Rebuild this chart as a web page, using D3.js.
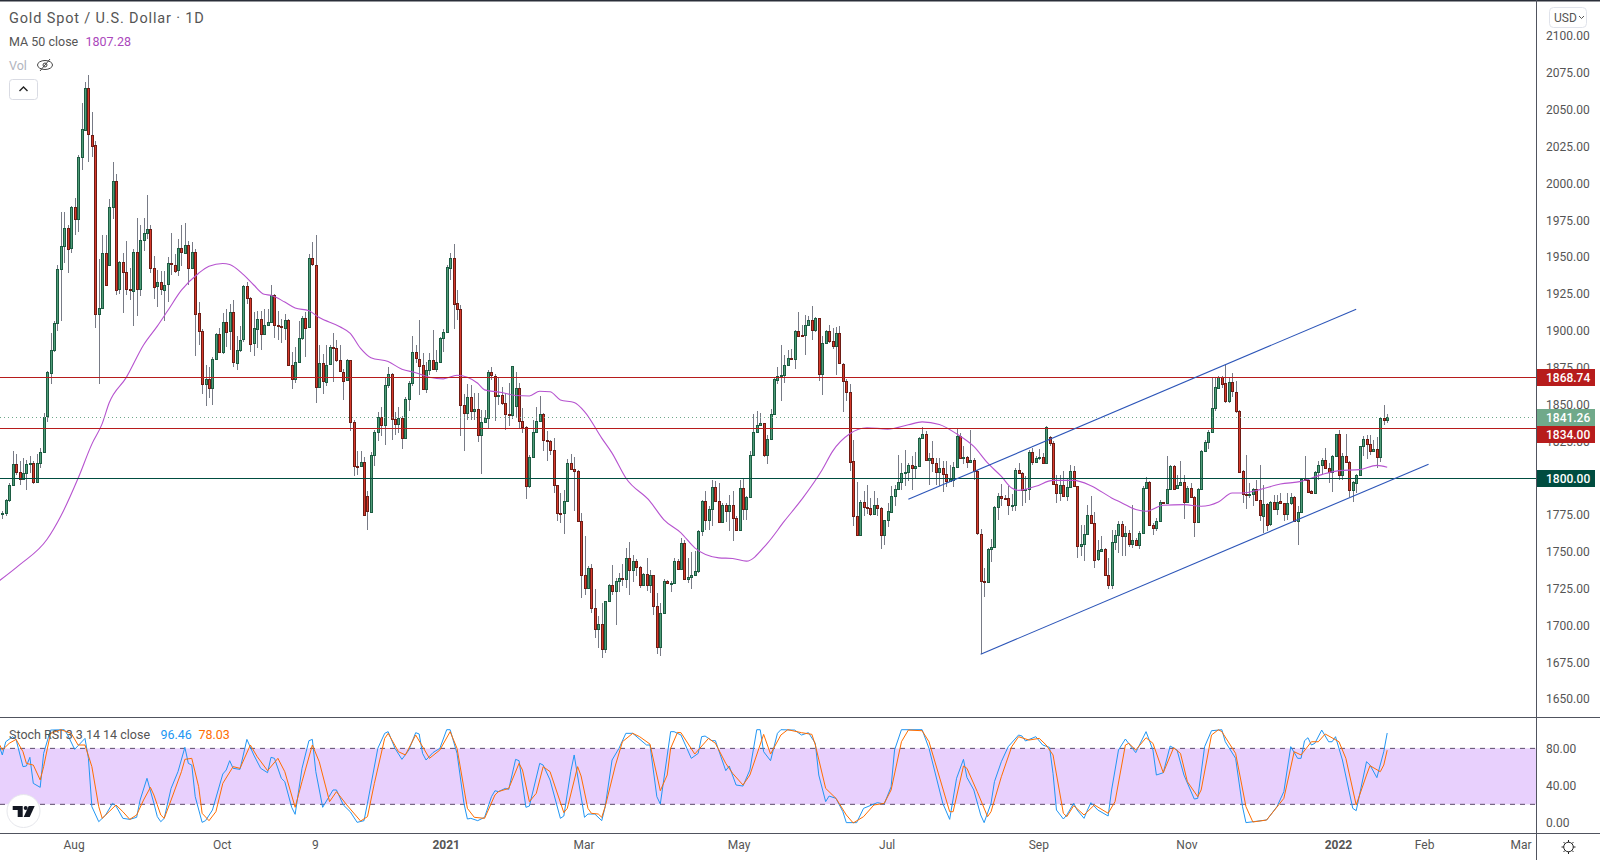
<!DOCTYPE html>
<html>
<head>
<meta charset="utf-8">
<title>Gold Spot / U.S. Dollar</title>
<script src="https://cdn.jsdelivr.net/npm/d3@7"></script>
<style>
body { margin: 0; background: #fff; }
svg { display: block; }
text { font-family: Roboto, "Noto Sans", sans-serif; }
</style>
</head>
<body>
<svg></svg>
<script>
// daily candles, one entry per bar
let opens = [
1775.6,1776.1,1785.1,1795.1,1809.5,1803.9,1799.3,1803.3,1809.5,1810.4,
1797.4,1810.2,1817.6,1841.6,1871.3,1886.8,1905,1941.9,1957.7,1970,
1955.8,1983.7,1975.8,2017.6,2036.1,2064.5,2033.1,2025.7,1911.2,1915.4,
1953,1944.2,1983.9,2001.6,1927.9,1946.5,1939.6,1928.4,1927.5,1953.7,
1928.6,1961.8,1966.5,1969.3,1942.6,1930,1932.8,1927.9,1931.2,1945.6,
1944.9,1940.7,1955.8,1952.8,1958.4,1943,1953.7,1911.9,1899.6,1863.4,
1867.1,1861.3,1880.8,1897.8,1885.7,1905.9,1899.2,1912.4,1878.3,1887.1,
1893.8,1930,1922.1,1891,1901.5,1908.2,1897.8,1903.8,1905.9,1924.2,
1903.8,1902.9,1901.9,1907.3,1876.9,1867.1,1878.7,1895,1908.9,1902.4,
1949.1,1944.9,1862,1878.3,1865.2,1876.9,1888.9,1888,1879.9,1872.2,
1866.2,1879.9,1837.9,1808.3,1807.9,1810.8,1787.8,1777.2,1815.6,1830.9,
1841.3,1835.9,1863,1870.4,1839.9,1836.3,1840.6,1826.9,1853.5,1864.3,
1885.3,1881,1876.5,1860,1873.1,1879.9,1873.6,1878.5,1894.8,1898.9,
1942.9,1949.6,1918.5,1914.4,1849.4,1843.8,1854.8,1845.4,1846.7,1829.1,
1837.9,1840.6,1871.8,1869.5,1856,1856,1850.6,1843.1,1842.4,1848.5,
1860.9,1838.6,1834.5,1794.4,1814.2,1830.9,1838.6,1843.3,1825.7,1824.8,
1819,1795.3,1776.5,1776.3,1784.2,1810.2,1806.1,1804.7,1770.7,1734.1,
1725.5,1739.1,1712,1697.8,1701.1,1684.2,1716.5,1727.6,1723.5,1730,
1732.1,1731.6,1745.8,1737.7,1743.8,1739.7,1727.3,1735,1727.3,1734.3,
1713.1,1685.3,1708.6,1730.3,1728.7,1728.7,1743.8,1738.4,1756,1731.6,
1733,1734.3,1737,1764.1,1784.4,1771.3,1779,1793.9,1784.4,1770.2,
1781.7,1777.7,1781.7,1772.9,1764.8,1793.2,1779,1787.1,1815.6,1831.1,
1835.9,1837.2,1815.3,1826.4,1843.1,1867,1869.3,1869.5,1876.5,1881.2,
1880.6,1899.5,1896.8,1896.8,1903.6,1907,1900,1908.3,1870.2,1891.4,
1899.5,1892.8,1889.4,1898.2,1877.6,1866.1,1858.7,1811.5,1774,1761.2,
1783.7,1780.4,1779.7,1775.4,1781.7,1779.7,1761.2,1771.6,1777.4,1788,
1792.6,1797.3,1803.2,1803.8,1808.8,1806.5,1807.9,1826.9,1829.8,1812,
1813.5,1810.2,1803.8,1806.8,1802.5,1797.7,1798.9,1807.4,1828.7,1813.8,
1814,1810.6,1812.2,1804.5,1762.1,1730.3,1729.6,1751.9,1753.3,1780.2,
1787.8,1786.7,1786.5,1781.5,1781.5,1805.4,1803.2,1791.6,1792.6,1817.6,
1810.6,1813.5,1814.2,1809.9,1827.5,1823.5,1795.9,1789.8,1795.3,1787.6,
1793.9,1804.7,1794.4,1753.7,1755.1,1761.9,1774.9,1769.5,1744.5,1750.6,
1751.9,1734.3,1727.6,1756.7,1761.4,1768.9,1760.5,1762.8,1755.5,1758,
1754.4,1762.6,1793,1797.3,1768,1765.7,1770.7,1783.7,1783.1,1792.6,
1808.4,1793,1795,1797.3,1783.5,1793,1787.1,1770,1792.6,1818.3,
1824.1,1830.9,1847.2,1861.4,1868.8,1864.3,1851.9,1865,1858.7,1845.8,
1804.7,1789.4,1788.5,1789.2,1792.6,1785.1,1774.7,1782.6,1768.6,1783.5,
1779,1784.4,1782.8,1775.4,1782.8,1787.1,1770.9,1776.8,1799.3,1798.9,
1791,1789.6,1804.1,1808.6,1812.2,1806.8,1804.3,1814.7,1829.8,1801.8,
1814.9,1810.8,1791.6,1797.1,1802,1821.4,1826.4,1822.8,1818.1,1819.7,
1814.3,1840.7,1839.1]

let highs = [
1777.7,1785.8,1796.3,1818.3,1816,1811.4,1813.7,1812.5,1814.9,1811.4,
1816,1820.7,1843.9,1872.9,1898.5,1906.6,1944.9,1980.4,1980.4,1971.6,
1984.4,1990.2,2019.2,2054.7,2068.7,2073.3,2048.2,2028.5,1948.4,1964.6,
1964.6,1989.7,2014.6,2006,1947.2,1953,1961.1,1942.6,1955.3,1976.2,
1971.6,1976.2,1991.8,1971.6,1950.7,1941.4,1940.2,1940.2,1950.2,1966.5,
1951.9,1962.3,1971.6,1972.8,1961.1,1960,1955.3,1919.4,1900.8,1876.4,
1875.2,1882.2,1898.5,1901.9,1911.7,1914.7,1918.2,1921,1896.1,1903.1,
1931,1933.3,1922.8,1912.4,1913.5,1913.5,1914.7,1914.7,1931,1925.2,
1913.5,1907.7,1911.2,1907.7,1885.2,1889.2,1906.6,1910.1,1912.4,1951.9,
1960,1964.6,1890.3,1884.5,1890.3,1890.3,1898.5,1893.8,1890.3,1874.1,
1881,1880.1,1839.5,1818.5,1818.1,1814.2,1791,1817.6,1832.7,1844.5,
1848.5,1868.8,1875.2,1871.1,1845.1,1848.1,1841.8,1855.3,1865.9,1896.4,
1890.1,1907.2,1884.6,1879,1884.6,1900.4,1886.9,1895.5,1900.9,1944.4,
1953,1959.1,1927.5,1917.4,1857.1,1863.9,1863.2,1857.6,1857.6,1846.3,
1846.3,1873.4,1875.4,1870.6,1868.2,1861.6,1857.6,1864.3,1876.1,1871.8,
1864.3,1847.4,1835,1815.8,1839.5,1848.5,1855.7,1844,1831.6,1826,
1827.1,1795.5,1789.8,1792.1,1813.1,1816.5,1814.2,1805.6,1776.3,1760.5,
1740.2,1741.3,1724.4,1706.3,1714.9,1716.5,1727.8,1740.9,1732.3,1735.7,
1741.8,1752.2,1756.4,1747.4,1744.7,1740.2,1735.7,1745.8,1737.3,1734.5,
1722.1,1715.4,1731.2,1730.5,1730,1745.8,1745.2,1759.4,1758.2,1745.8,
1749.7,1750.3,1764.6,1784.9,1791,1780.8,1798.4,1798.2,1796.6,1783.1,
1783.1,1788.7,1791,1774,1798.9,1800,1787.6,1818.3,1843.3,1845.8,
1844,1837.4,1829.3,1846.7,1868.4,1875.2,1890.3,1883.5,1886.9,1887.3,
1900.4,1912.4,1903.8,1910.6,1909.9,1916.7,1909,1908.8,1896.4,1900.4,
1903.8,1901.6,1902.2,1903.1,1877.9,1867,1863.9,1826,1797.5,1785.3,
1791,1795.5,1786.5,1791,1786.5,1780.4,1771.8,1783.1,1794.4,1795.5,
1815.8,1810.2,1819.2,1810.2,1814.7,1817.6,1827.5,1834.5,1831.6,1816.9,
1825.3,1813.5,1813.5,1811.3,1811.5,1809,1810.6,1833.2,1830.5,1821.4,
1814.7,1832.3,1813.5,1805.6,1765.7,1739.1,1752.6,1758.7,1780.8,1789.8,
1795.9,1788.7,1794.4,1789.4,1806.8,1810.2,1803.8,1801.1,1819.2,1820.3,
1814.7,1819.6,1816.9,1835.4,1828.2,1824.8,1802.3,1802.3,1804.5,1800,
1809,1807.9,1794.8,1768.4,1768.4,1781.9,1788,1777.2,1758.2,1760.5,
1752.6,1745.8,1764.6,1765,1771.1,1770.7,1767.3,1765,1781.9,1759.4,
1763.9,1794.4,1800.7,1797.7,1769.5,1772.9,1785.3,1783.7,1814.7,1809,
1809,1802.3,1811.3,1802.3,1794.4,1796.6,1788,1793.2,1819.2,1826,
1832.7,1868.8,1868.8,1869.3,1869.3,1876.7,1868.4,1871.1,1866.1,1846.3,
1805.2,1815.8,1796.6,1793.2,1798.9,1809,1795.5,1783.1,1784.2,1788.7,
1788.7,1789.8,1783.1,1789.8,1789.8,1787.6,1780.8,1800,1815.1,1799.3,
1792.1,1804.5,1811.3,1813.5,1820.3,1810.2,1815.8,1830,1832.3,1816.9,
1830,1811.3,1797.7,1802.7,1821.9,1828.7,1829.3,1829,1826,1827.6,
1841.2,1849.8,1843.4]

let lows = [
1771.9,1774.2,1783.5,1794.7,1802.1,1795.1,1798.6,1791.6,1803.3,1795.6,
1797,1806.7,1817.2,1838.1,1863.6,1885.7,1900,1906.6,1946,1939.1,
1953,1964.6,1967,2008.8,2035.5,2014.6,2018,1901.9,1863.6,1914.7,
1931,1943.7,1975.8,1924,1924.7,1911.7,1924,1920.5,1903.1,1910.1,
1923.3,1954.2,1962.3,1939.1,1921.7,1916.3,1924,1906.6,1919.4,1937.9,
1939.1,1936.8,1943.7,1951.9,1931,1942.6,1882.7,1890.3,1856.7,1849,
1854.3,1849.7,1881,1885.2,1884.5,1889.2,1886.8,1875.2,1873.4,1885.7,
1892.6,1918.2,1885.7,1882.7,1888,1886.8,1897.3,1903.1,1905.4,1895,
1893.8,1891.5,1893.8,1876.4,1860.1,1864.3,1878.3,1893.8,1882.2,1901.9,
1943.7,1850.9,1861.3,1856.7,1862.5,1876.4,1865.2,1878.7,1871.7,1853.2,
1865.7,1831.6,1801.1,1802.3,1807.5,1774.5,1765,1776.8,1808.4,1824.8,
1828.2,1822.6,1860.9,1826,1829.3,1830.5,1819.9,1826.4,1845.6,1862.7,
1877.9,1856,1859.4,1858,1870,1873.4,1872.2,1877.9,1885.8,1898.2,
1934.3,1901.1,1907.2,1828.7,1818.1,1839.5,1839.5,1839.5,1824.1,1802.9,
1837.2,1833.2,1866.6,1838.4,1849.7,1849.7,1832.3,1835,1839.9,1840.6,
1833.9,1830.5,1785.8,1793.2,1813.5,1830.5,1837.7,1818.1,1811.3,1815.8,
1789.8,1770.7,1769.5,1761.9,1783.5,1805.2,1777.4,1770.2,1718.7,1720.6,
1724.8,1708.6,1691.7,1684.9,1678.1,1681.5,1716.5,1720.3,1700.2,1722.6,
1726.6,1725.5,1720.6,1729.4,1733.4,1725.5,1726.6,1723.3,1722.1,1707,
1680.4,1679.3,1707.9,1728.2,1722.6,1727.8,1738,1738,1731.6,1728.9,
1724.8,1733.4,1735.2,1760.5,1764.6,1764.6,1767.3,1784,1770,1769.5,
1770,1763.9,1757.1,1764.6,1764.6,1771.3,1771.3,1786.9,1814.7,1830.9,
1835.4,1814.2,1809.3,1826,1842.7,1863.9,1852.6,1864.8,1876.1,1880.6,
1873.8,1895.7,1895.7,1883.3,1903.1,1893.7,1899.3,1866.1,1856,1891,
1891.4,1887.8,1870,1877.2,1845.1,1852.6,1804.5,1767.7,1761,1761,
1774,1775.9,1774,1774.9,1774,1751.5,1754.2,1766.6,1777.2,1781.3,
1792.1,1792.1,1794.8,1797.7,1792.1,1800,1807.4,1826.4,1811.5,1795.5,
1803.8,1795.5,1794.8,1790.3,1793.9,1797.1,1793.9,1807,1813.5,1809.7,
1806.8,1810.6,1798.4,1761.6,1680.4,1719.2,1728.9,1742.9,1752.6,1771.8,
1780.8,1785.3,1775.2,1777.4,1777.4,1802.7,1780.8,1783.1,1785.3,1809,
1810.2,1812.4,1809.5,1809.7,1821.4,1795.3,1783.1,1784.2,1787.1,1784.2,
1793.2,1793.9,1745.8,1747,1743.6,1761.4,1769.1,1738.6,1744,1750.3,
1733.4,1724.4,1724.4,1751,1749.2,1747,1747,1753.3,1752.6,1753.7,
1751.5,1762.3,1792.8,1767.7,1761.2,1763.9,1770.2,1783.1,1783.1,1792.1,
1792.6,1792.8,1794.4,1772.2,1783.1,1786.5,1759.8,1769.5,1792.1,1818.1,
1819.9,1830.5,1845.8,1860.9,1860.9,1850.8,1850.8,1854.8,1844,1804.1,
1783.1,1779.2,1786.5,1781.3,1784.2,1770.7,1762.8,1763.9,1767.3,1778.6,
1775.2,1782.6,1770.7,1771.8,1781.9,1770.7,1754.4,1776.3,1797.7,1790.5,
1789.4,1789.2,1798.9,1802.3,1806.1,1796.6,1790.3,1814.2,1798.9,1798.9,
1810.2,1787.1,1783.5,1789.8,1801.6,1815.1,1813.1,1815.8,1817.6,1806.8,
1810.9,1836.2,1837.3]

let closes = [
1776.5,1785.1,1795.1,1809.5,1803.9,1799.3,1803.3,1809.5,1810.4,1797.4,
1810.2,1817.6,1841.6,1871.7,1886.8,1905.4,1941.9,1957.7,1970,1955.8,
1983.7,1975.8,2018,2036.6,2064.5,2033.1,2025.7,1911.2,1915.4,1953,
1931.4,1983.9,2001.6,1927.9,1946.5,1939.6,1927.9,1927.5,1953.7,1928.6,
1961.8,1966.5,1969.3,1942.6,1930,1932.8,1927.9,1931.2,1945.6,1944.9,
1940.7,1955.8,1952.8,1958.4,1943,1953.7,1911.9,1899.6,1863.4,1867.1,
1861.3,1880.8,1897.8,1885.7,1905.9,1899.2,1912.4,1878.3,1887.1,1893.8,
1930,1922.1,1891,1901.5,1908.2,1897.8,1903.8,1905.9,1924.2,1903.8,
1902.9,1901.9,1907.3,1876.9,1867.1,1878.7,1895,1908.9,1902.4,1949.1,
1944.9,1862,1878.3,1865.9,1876.9,1888.7,1888,1879.9,1872.2,1866.2,
1879.9,1837.9,1807.9,1807.9,1810.8,1774.9,1777.7,1815.6,1831.1,1841.3,
1835.9,1863,1870.4,1839.9,1836.3,1840.6,1826.9,1853.5,1864.3,1885.3,
1881,1876.5,1860,1873.1,1879.9,1873.8,1878.5,1894.8,1898.9,1942.9,
1949.6,1918.5,1914.4,1849.4,1843.8,1854.8,1845.4,1846.7,1829.1,1837.9,
1840.9,1871.8,1869.5,1856,1856.4,1850.6,1843.1,1842.4,1875.8,1860.9,
1838.6,1834.5,1794.4,1814.2,1831.1,1838.6,1843.3,1825.7,1824.8,1819,
1795.3,1776.3,1776.1,1784.2,1810.2,1805.9,1804.7,1770.7,1734.1,1725.5,
1739.1,1712,1697.8,1701.1,1684.2,1716.5,1727.6,1723.5,1730.3,1732.1,
1731.6,1745.8,1737.7,1743.8,1739.7,1727.3,1735,1727.3,1734.3,1713.1,
1685.3,1708.6,1730.3,1728.7,1729,1743.8,1738.4,1756,1731.6,1733,
1734.3,1737,1764.1,1784.4,1771.3,1779,1793.9,1784.4,1770.2,1781.7,
1777.7,1781.7,1772.9,1764.8,1793.2,1779,1787.1,1815.6,1831.1,1835.9,
1837.2,1815.3,1826.4,1843.3,1867,1869.5,1869.7,1876.5,1881.2,1880.6,
1899.5,1896.1,1896.1,1903.6,1907,1900,1908.3,1870.2,1891.4,1899.5,
1892.8,1889.2,1898.2,1877.6,1866.1,1858.7,1811.5,1774,1761.2,1783.7,
1780.4,1779.7,1775.4,1781.7,1779.7,1761.2,1771.6,1777.7,1788,1792.8,
1797.5,1803.4,1804.1,1808.8,1806.5,1808.1,1827.1,1829.8,1812,1813.5,
1810.2,1803.8,1806.8,1802.5,1797.7,1799.3,1807.4,1828.7,1814,1814.2,
1810.6,1812.2,1804.5,1762.1,1730.3,1729.6,1751.9,1753.3,1780.4,1787.8,
1786.5,1786.2,1781.7,1781.9,1805.4,1803.2,1791.9,1792.6,1817.6,1810.6,
1813.5,1814.2,1809.9,1834.5,1823.5,1795.9,1789.8,1795.3,1787.6,1793.9,
1804.7,1794.4,1753.7,1755.3,1762.1,1774.9,1769.5,1744.5,1750.8,1751.9,
1734.1,1727.6,1756.7,1761.4,1769.1,1760.7,1762.8,1755.5,1758,1754.4,
1762.8,1793.2,1797.3,1768,1765.9,1770.7,1783.7,1783.3,1792.6,1808.4,
1793,1795.3,1797.3,1783.5,1793,1787.1,1770,1792.6,1818.3,1824.4,
1831.1,1847.4,1861.6,1868.8,1864.3,1851.9,1865,1858.7,1845.8,1804.5,
1789.2,1788.5,1789.2,1792.6,1784.9,1774.7,1782.6,1768.6,1783.5,1779,
1783.5,1782.8,1775.4,1782.8,1787.1,1770.9,1777,1799.3,1798.6,1791,
1789.6,1804.1,1808.8,1812.2,1806.8,1804.3,1814.9,1829.8,1801.8,1814.9,
1810.8,1791.9,1797.3,1802.3,1821.7,1826.4,1822.8,1818.1,1819.7,1814.3,
1840.7,1839.1,1841.26]

// moving average, read at its visible bends (bar number, price)
let maDays = [-1,5,13,17,22,26,29,31,36,41,45,48,52,57,60,64,66,70,73,76,78,82,85,89,92,98,101,104,107,112,116,120,124,128,132,135,138,140,145,149,153,156,159,162,166,169,174,177,181,188,192,197,201,208,212,216,222,227,232,238,241,246,251,257,263,267,272,277,282,286,290,293,295,300,305,311,316,322,325,329,332,337,343,348,353,357,360,365,371,377,383,388,394,399,402]
let maValues = [1730,1741,1758.4,1774.2,1799.8,1823,1836.9,1850.9,1868.3,1890.3,1903.1,1913.5,1927.5,1939,1943.7,1945.6,1944.9,1938,1931,1924.7,1924,1919.4,1915.4,1913.5,1908.9,1902.7,1898.2,1888,1881.7,1879,1873.8,1871.5,1868.4,1867.3,1869.7,1868.4,1864.3,1859.8,1858,1856,1855.7,1858.9,1858.5,1853,1851.2,1845.1,1827.1,1816.9,1800,1784.2,1771.8,1762.8,1752.6,1745.8,1745.4,1743.6,1755.5,1770.7,1785.3,1805.6,1818.1,1830,1834.1,1833.2,1836.1,1838.1,1836.3,1830,1821.4,1810.2,1801.1,1793.2,1791.6,1794.4,1798.4,1798.4,1794.8,1786.5,1783.1,1778.6,1777.4,1781.5,1781.9,1780.8,1783.7,1789.8,1789.8,1792.1,1795.9,1797.7,1802.3,1805,1805.7,1808.6,1807.28]

// stoch rsi %k and %d, read at their bends
let kDays = [-1,0,1,3,4,6,7,8,9,11,12,14,18,19,21,24,25,26,28,30,32,33,35,37,39,40,42,44,45,46,47,49,51,53,54,55,56,58,59,61,64,65,66,67,69,71,73,75,77,78,79,81,82,84,85,87,89,90,91,93,96,97,99,101,103,105,106,109,111,112,114,116,118,120,121,122,123,125,127,129,130,132,134,135,136,138,140,142,143,144,146,147,149,150,152,153,156,157,159,162,163,165,166,169,170,172,174,175,177,179,181,183,187,188,190,191,194,195,197,200,202,203,204,206,207,210,211,213,215,217,219,220,221,223,225,226,230,232,234,236,237,239,240,242,244,245,248,250,254,256,258,259,261,267,269,273,275,277,279,280,282,284,285,287,288,290,292,295,296,297,300,302,304,305,306,308,309,311,312,314,315,316,318,321,322,324,326,329,332,334,335,337,339,341,343,346,347,349,351,354,355,358,360,361,367,370,372,374,376,377,378,379,380,381,383,385,386,387,389,392,393,396,397,399,401,402]
let kValues = [83.6,72.9,87.1,92.5,89.6,60.4,61.1,70.4,42.5,38.2,74.6,99.6,100,94.3,78.9,90.7,69.3,17.5,1.4,8.6,21.1,18.2,5,3.9,6.1,24.6,47.9,21.1,6.8,1.4,5,37.1,55,81.1,63.9,62.1,28.2,0.7,2.5,13.9,52.5,56.8,66.8,58.6,57.5,89.6,72.9,58.6,53.9,70.4,69.3,47.9,44.3,16.8,9.3,58.6,88.2,89.6,55,16.8,35.4,35.4,19.3,12.1,0.7,2.5,21.1,80,96.1,97.9,80,68.2,78.2,96.8,95.4,74.6,67.5,75.4,80,100,100,74.6,21.1,4.3,5,2.5,6.1,28.2,34.6,33.6,37.1,36,68.2,66.8,16.8,18.2,63.9,62.1,46.1,5,7.5,55,72.9,6.1,9.6,9.6,2.5,17.5,67.5,80,96.1,96.1,83.6,83.6,28.2,20.4,97.9,97.9,94.3,69.3,74.6,92.5,93.2,88.2,88.2,56.1,61.1,40.7,39.6,56.8,100,100,76.4,66.8,96.1,100,99.6,94.3,96.8,85.4,51.4,22.9,28.9,26.4,12.1,0.4,0.4,15.7,21.8,20.4,38.9,78.2,100,100,80,21.1,3.9,47.9,68.2,48.9,35.4,8.6,0.4,21.1,44.3,65.7,81.8,94.3,93.2,87.9,92.5,83.6,81,53,13.9,4.3,8.6,21.1,13.9,5,13.9,21.8,13.9,7.5,35.4,78.2,90,75.4,97.9,78.2,51.4,53.9,82.5,78.2,51.4,25.7,26.4,81.8,98.9,100,87.1,69.3,17.5,0.4,3.2,17.5,33.6,81.8,69.3,69.3,88.2,91.4,83.6,85.4,99.6,87.1,87.1,92.5,67.5,15.7,13.2,65.7,62.1,48.6,76.4,96.46]
let dDays = [-1,0,2,4,6,7,9,11,12,14,17,20,22,24,26,28,29,31,33,35,37,39,41,43,44,46,47,49,52,53,55,57,58,60,62,64,67,69,72,74,77,80,82,85,87,90,92,95,97,100,104,106,108,111,112,115,117,120,124,127,130,132,135,137,140,143,144,147,150,151,153,155,157,159,163,164,167,168,170,171,173,174,175,178,180,183,185,188,191,193,194,196,197,201,205,207,210,212,215,217,221,223,226,228,232,235,236,239,242,245,247,250,253,256,258,261,263,267,269,275,276,279,280,283,286,287,290,293,295,298,301,303,305,308,309,311,314,317,321,323,326,327,329,332,334,337,340,342,344,347,348,351,353,354,358,361,363,367,372,375,377,380,382,384,388,390,393,396,397,400,401,402]
let dValues = [85.4,78.2,85.4,89.6,76.4,63.9,62.1,46.1,60.4,96.1,100,96.1,83.6,83.6,60.4,17.5,5,12.1,19.3,12.1,3.9,8.6,24.6,38.2,30,8.6,5,24.6,55,68.2,69.3,38.9,10.4,2.5,12.1,42.5,60.4,58.6,83.6,71.1,56.1,69.3,55,16.8,44.3,83.6,65.7,22.9,33.6,19.3,2.1,6.8,42.5,90.7,96.1,76.4,72.9,94.3,69.3,78.2,97.9,80,15.7,6.1,5,30,33.6,37.1,63.9,56.8,22.9,31.8,60.4,55,11.1,15.7,60.4,50.4,15.7,10.4,9.6,6.1,17.5,62.1,87.1,96.1,92.5,84.6,34.6,51.4,80,97.1,96.8,73.9,90.7,85.4,63.9,53.2,40.7,51.4,95,73.9,94.3,100,96.8,95,83.6,37.1,26.4,8.6,0,6.8,19.3,21.1,35.4,87.1,99.6,98.9,87.1,12.1,12.1,61.1,58.6,33.6,6.8,12.1,49.6,81.8,92.5,88.9,90.7,83.6,72.9,10.4,6.8,18.6,8.6,19.3,10.4,22.9,83.6,85.4,78.2,91.4,85.4,53.9,80.7,74.6,44.3,28.2,35.4,94.3,100,97.9,74.6,17.5,1.1,3.2,26.4,76.4,72.9,87.1,87.1,95.4,87.1,69.3,19.3,51.4,61.4,55,62.1,78.03]

// trend channel, bar number and price at each end
let upperDays = [263,393]
let upperPrices = [1785.5,1914.6]
let lowerDays = [284,414]
let lowerPrices = [1680.4,1809.4]

// ticks and level tags
let priceTicks = [1650,1675,1700,1725,1750,1775,1800,1825,1850,1875,1900,1925,1950,1975,2000,2025,2050,2075,2100]
let stochTicks = [0,40,80]
let timeTickDays = [21,64,91,129,169,214,257,301,344,388,413,441]
let timeTickLabels = ['Aug','Oct','9','2021','Mar','May','Jul','Sep','Nov','2022','Feb','Mar']
let levelPrices = [1868.74,1834,1800]
let levelColors = ['#b71c1c','#b71c1c','#004d40']
let lastPrice = 1841.26

let width = 1600
let height = 860
let plotRight = 1536
let tagHeight = 17

let svg = d3.select('svg').attr('width',width).attr('height',height)

// scales
let xScale = d3.scaleLinear().domain([0,402]).range([2.3,1387.2])
let yScale = d3.scaleLinear().domain([1650,2100]).range([699,36])
let stochScale = d3.scaleLinear().domain([0,100]).range([823,729.7])

let defs = svg.append('defs')
defs.append('clipPath').attr('id','main-clip').append('rect')
    .attr('width',plotRight).attr('height',717)
defs.append('clipPath').attr('id','stoch-clip').append('rect')
    .attr('y',717).attr('width',plotRight).attr('height',116)

let drawCandles = () => {
    let g = svg.append('g').attr('clip-path','url(#main-clip)')
    let bars = g.selectAll('g').data(opens).enter().append('g')
        .attr('shape-rendering','crispEdges')
        .attr('transform',(d,i) => 'translate(' + Math.round(xScale(i)) + ',0)')

    bars.append('rect')
        .attr('x',0)
        .attr('width',1)
        .attr('y',(d,i) => yScale(highs[i]))
        .attr('height',(d,i) => yScale(lows[i]) - yScale(highs[i]))
        .attr('fill','#787b86')

    bars.append('rect')
        .attr('x',-0.5)
        .attr('width',2)
        .attr('y',(d,i) => Math.round(yScale(Math.max(d,closes[i]))) + 0.5)
        .attr('height',(d,i) => Math.max(1,Math.round(Math.abs(yScale(d) - yScale(closes[i])))))
        .attr('fill',(d,i) => closes[i] >= d ? '#4f9c78' : '#d63a2b')
        .attr('stroke',(d,i) => closes[i] >= d ? '#1c5c42' : '#6d1c15')
        .attr('stroke-width',1)
}

let drawMa = () => {
    let line = d3.line()
        .x((d) => xScale(d))
        .y((d,i) => yScale(maValues[i]))
        .curve(d3.curveMonotoneX)
    svg.append('path')
        .attr('clip-path','url(#main-clip)')
        .attr('d',line(maDays))
        .attr('fill','none')
        .attr('stroke','#b653cf')
        .attr('stroke-width',1.1)
}

let drawLevels = () => {
    // dotted line at the last price
    svg.append('line')
        .attr('x1',0).attr('x2',plotRight)
        .attr('y1',Math.round(yScale(lastPrice)) + 0.5).attr('y2',Math.round(yScale(lastPrice)) + 0.5)
        .attr('stroke','#6fa88a')
        .attr('stroke-dasharray','1 3')

    svg.selectAll('.level').data(levelPrices).enter().append('line')
        .attr('class','level')
        .attr('x1',0).attr('x2',plotRight)
        .attr('y1',(d) => Math.round(yScale(d)) + 0.5)
        .attr('y2',(d) => Math.round(yScale(d)) + 0.5)
        .attr('stroke',(d,i) => levelColors[i])
        .attr('stroke-width',1.2)
}

let drawChannel = () => {
    let upper = d3.line().x((d) => xScale(d)).y((d,i) => yScale(upperPrices[i]))
    let lower = d3.line().x((d) => xScale(d)).y((d,i) => yScale(lowerPrices[i]))
    let g = svg.append('g').attr('fill','none').attr('stroke','#2c55b8').attr('stroke-width',1.1)
    g.append('path').attr('d',upper(upperDays))
    g.append('path').attr('d',lower(lowerDays))
}

let drawStoch = () => {
    svg.append('rect')
        .attr('x',0).attr('width',plotRight)
        .attr('y',stochScale(80)).attr('height',stochScale(20) - stochScale(80))
        .attr('fill','#e8d0fd')

    svg.selectAll('.band').data([80,20]).enter().append('line')
        .attr('class','band')
        .attr('x1',0).attr('x2',plotRight)
        .attr('y1',(d) => stochScale(d)).attr('y2',(d) => stochScale(d))
        .attr('stroke','#5c4b6b')
        .attr('stroke-dasharray','5 5')

    let kLine = d3.line().x((d) => xScale(d)).y((d,i) => stochScale(kValues[i]))
    let dLine = d3.line().x((d) => xScale(d)).y((d,i) => stochScale(dValues[i]))
    let g = svg.append('g').attr('clip-path','url(#stoch-clip)').attr('fill','none').attr('stroke-width',1)
    g.append('path').attr('d',kLine(kDays)).attr('stroke','#2196f3')
    g.append('path').attr('d',dLine(dDays)).attr('stroke','#ff6d00')
}

let drawFrame = () => {
    svg.append('rect').attr('width',width).attr('height',1.5).attr('fill','#2a2e39')
    let frame = svg.append('g').attr('stroke','#50535e').attr('shape-rendering','crispEdges')
    frame.append('line').attr('x1',0).attr('x2',width).attr('y1',717.5).attr('y2',717.5)
    frame.append('line').attr('x1',0).attr('x2',width).attr('y1',833.5).attr('y2',833.5)
    frame.append('line').attr('x1',plotRight + 0.5).attr('x2',plotRight + 0.5).attr('y1',0).attr('y2',height)
}

let styleAxis = (g) => {
    g.select('.domain').remove()
    g.selectAll('text').attr('fill','#555').style('font-size','12px')
        .style('font-family','Roboto, sans-serif')
}

let generateAxes = () => {
    svg.append('g')
        .attr('transform','translate(' + plotRight + ',0)')
        .call(d3.axisRight(yScale).tickValues(priceTicks).tickSize(0).tickPadding(10).tickFormat(d3.format('.2f')))
        .call(styleAxis)

    svg.append('g')
        .attr('transform','translate(' + plotRight + ',0)')
        .call(d3.axisRight(stochScale).tickValues(stochTicks).tickSize(0).tickPadding(10).tickFormat(d3.format('.2f')))
        .call(styleAxis)

    svg.append('g')
        .attr('transform','translate(-1,833)')
        .call(d3.axisBottom(xScale).tickValues(timeTickDays).tickSize(0).tickPadding(7).tickFormat((d,i) => timeTickLabels[i]))
        .call(styleAxis)
        .selectAll('text')
        .style('font-weight',(d,i) => timeTickLabels[i].length == 4 ? 700 : 400)
}

let drawTags = () => {
    let tags = [levelPrices[0],lastPrice,levelPrices[1],levelPrices[2]]
    let colors = [levelColors[0],'#70a98a',levelColors[1],levelColors[2]]
    // a tag that would overlap the one above it slides down, as on the price scale
    let lastBottom = 0
    tags.forEach((price,k) => {
        let top = Math.max(Math.round(yScale(price)) - 8,lastBottom)
        lastBottom = top + tagHeight
        svg.append('rect')
            .attr('x',plotRight + 1).attr('y',top)
            .attr('width',58).attr('height',tagHeight)
            .attr('fill',colors[k])
        svg.append('text')
            .attr('x',plotRight + 10).attr('y',top + 13)
            .attr('fill','#fff')
            .style('font-size','12px').style('font-weight',500)
            .text(d3.format('.2f')(price))
    })
}

let drawLegend = () => {
    svg.append('text').attr('x',9).attr('y',22.5).attr('fill','#555')
        .style('font-size','14.5px').style('letter-spacing','0.85px').text('Gold Spot / U.S. Dollar · 1D')
    let ma = svg.append('text').attr('x',9).attr('y',46).attr('fill','#555').style('font-size','12.5px')
    ma.append('tspan').text('MA 50 close')
    ma.append('tspan').attr('x',85.5).attr('fill','#ab47bc').text('1807.28')
    svg.append('text').attr('x',9).attr('y',70).attr('fill','#b2b5be').style('font-size','12.5px').text('Vol')

    // crossed out eye
    let eye = svg.append('g').attr('transform','translate(45,65)').attr('fill','none').attr('stroke','#444')
    eye.append('ellipse').attr('rx',7.5).attr('ry',4.5)
    eye.append('circle').attr('r',2)
    eye.append('line').attr('x1',-5).attr('y1',6).attr('x2',5).attr('y2',-6)

    // collapse button
    let btn = svg.append('g').attr('fill','none')
    btn.append('rect').attr('x',9.5).attr('y',79.5).attr('width',28).attr('height',20).attr('rx',3).attr('stroke','#d9dbe3')
    btn.append('path').attr('d','M19.5 91L23.5 87L27.5 91').attr('stroke','#222').attr('stroke-width',1.4)

    let st = svg.append('text').attr('x',9).attr('y',739).attr('fill','#555').style('font-size','12.5px')
    st.append('tspan').text('Stoch RSI 3 3 14 14 close')
    st.append('tspan').attr('x',160.5).attr('fill','#2196f3').text('96.46')
    st.append('tspan').attr('x',198.5).attr('fill','#ff6d00').text('78.03')

    // usd button
    let usd = svg.append('g')
    usd.append('rect').attr('x',1549.5).attr('y',7.5).attr('width',37).attr('height',20).attr('rx',4)
        .attr('fill','#fff').attr('stroke','#e0e3eb')
    usd.append('text').attr('x',1554).attr('y',22).attr('fill','#555').style('font-size','12px').text('USD')
    usd.append('path').attr('d','M1579 16L1581.5 18.5L1584 16').attr('fill','none').attr('stroke','#555')

    // logo badge
    svg.append('circle').attr('cx',23.5).attr('cy',811).attr('r',16.5).attr('fill','#fff').attr('stroke','#e6e7ec')
    let logo = svg.append('g').attr('transform','translate(12.7,806)').attr('fill','#131722')
    logo.append('path').attr('d','M0 0H10V11H5V4H0Z')
    logo.append('circle').attr('cx',13).attr('cy',2).attr('r',2)
    logo.append('path').attr('d','M22 0L17 11H11L16 0Z')

    // settings gear
    let gear = svg.append('g').attr('transform','translate(1568.5,847)').attr('fill','none').attr('stroke','#222')
    gear.append('circle').attr('r',4.8)
    d3.range(8).forEach((k) => {
        let a = k * Math.PI / 4
        gear.append('line')
            .attr('x1',Math.cos(a) * 4.8).attr('y1',Math.sin(a) * 4.8)
            .attr('x2',Math.cos(a) * 7).attr('y2',Math.sin(a) * 7)
    })
}

drawStoch()
drawCandles()
drawMa()
drawLevels()
drawChannel()
drawFrame()
generateAxes()
drawTags()
drawLegend()
</script>
</body>
</html>
